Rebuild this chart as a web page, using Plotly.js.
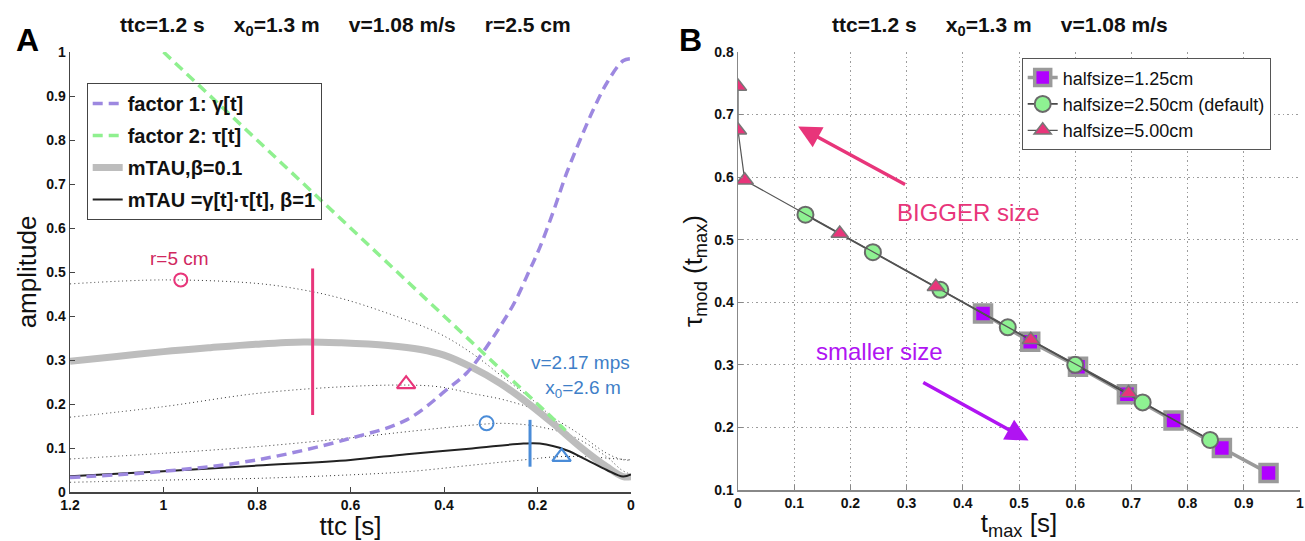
<!DOCTYPE html>
<html>
<head>
<meta charset="utf-8">
<script src="https://cdn.plot.ly/plotly-3.0.1.min.js"></script>
<style>html,body{margin:0;padding:0;background:#fff;}#chart{width:1305px;height:541px;}</style>
</head>
<body>
<div id="chart"></div>
<script>
// ---------- Panel A data ----------
const ttcGamma = [1.2, 1.0, 0.8, 0.6, 0.48, 0.39, 0.35, 0.31, 0.28, 0.25, 0.22, 0.195, 0.165, 0.138, 0.109, 0.081, 0.052, 0.017, 0];
const gammaVals = [0.033, 0.047, 0.073, 0.122, 0.164, 0.236, 0.272, 0.328, 0.376, 0.429, 0.497, 0.556, 0.641, 0.724, 0.80, 0.868, 0.929, 0.980, 0.985];

const ttcTau = [1.0, 0.14];
const tauVals = [1.0, 0.14];

const ttcMtau01 = [1.2, 1.1, 1.0, 0.9, 0.8, 0.7, 0.62, 0.52, 0.45, 0.4, 0.34, 0.28, 0.22, 0.167, 0.109, 0.052, 0.017, 0];
const mtau01Vals = [0.297, 0.308, 0.319, 0.328, 0.336, 0.341, 0.339, 0.333, 0.324, 0.311, 0.283, 0.247, 0.2015, 0.156, 0.103, 0.0575, 0.035, 0.035];

const ttcMtau1 = [1.2, 1.0, 0.8, 0.6, 0.48, 0.34, 0.23, 0.195, 0.138, 0.095, 0.052, 0.017, 0];
const mtau1Vals = [0.036, 0.047, 0.060, 0.073, 0.086, 0.099, 0.110, 0.110, 0.095, 0.073, 0.050, 0.035, 0.040];

const ttcDot1 = [1.2, 1.0, 0.8, 0.7, 0.62, 0.52, 0.41, 0.34, 0.27, 0.2, 0.15, 0.1, 0.05, 0.02, 0];
const dot1Vals = [0.473, 0.482, 0.474, 0.459, 0.440, 0.406, 0.360, 0.315, 0.258, 0.200, 0.150, 0.100, 0.055, 0.032, 0.028];
const ttcDot2 = [1.2, 1.0, 0.8, 0.62, 0.48, 0.41, 0.34, 0.27, 0.195, 0.124, 0.052, 0.02, 0];
const dot2Vals = [0.170, 0.194, 0.224, 0.239, 0.243, 0.239, 0.224, 0.209, 0.183, 0.141, 0.088, 0.074, 0.072];
const ttcDot3 = [1.2, 1.0, 0.8, 0.6, 0.48, 0.34, 0.27, 0.195, 0.124, 0.052, 0.02, 0];
const dot3Vals = [0.075, 0.088, 0.103, 0.123, 0.137, 0.152, 0.156, 0.148, 0.126, 0.080, 0.050, 0.040];
const ttcDot4 = [1.2, 1.0, 0.8, 0.6, 0.48, 0.34, 0.23, 0.16, 0.09, 0.04, 0.015, 0];
const dot4Vals = [0.022, 0.027, 0.031, 0.039, 0.046, 0.061, 0.073, 0.080, 0.080, 0.076, 0.074, 0.073];

const pinkCircle = {x: [0.963], y: [0.482]};
const pinkTriangle = {x: [0.481], y: [0.245]};
const blueCircle = {x: [0.309], y: [0.156]};
const blueTriangle = {x: [0.1485], y: [0.080]};
const pinkBarX = [0.681, 0.681], pinkBarY = [0.175, 0.508];
const blueBarX = [0.216, 0.216], blueBarY = [0.0575, 0.164];

// ---------- Panel B data ----------
const tmaxSmall = [0.436, 0.520, 0.605, 0.692, 0.775, 0.861, 0.944];
const tauSmall  = [0.382, 0.337, 0.297, 0.253, 0.211, 0.167, 0.127];
const tmaxDefault = [0.12, 0.24, 0.36, 0.48, 0.60, 0.72, 0.84];
const tauDefault  = [0.54, 0.48, 0.42, 0.36, 0.30, 0.24, 0.18];
const tmaxBig = [0.0, 0.0, 0.012, 0.181, 0.352, 0.521, 0.695];
const tauBig  = [0.745, 0.675, 0.595, 0.510, 0.425, 0.340, 0.255];

const seriesNamesB = ['halfsize=1.25cm', 'halfsize=2.50cm (default)', 'halfsize=5.00cm'];
const seriesNamesA = ['<b>factor 1: γ[t]</b>', '<b>factor 2: τ[t]</b>', '<b>mTAU,β=0.1</b>', '<b>mTAU =γ[t]·τ[t], β=1</b>'];

const FONT = 'Liberation Sans, Arial, Helvetica, sans-serif';
const PINK = '#e8357a', BLUE = '#4a8cd8', PURPLE = '#b014f2';

const dotLine = {color: '#333', width: 1, dash: '1px,3px'};
function dotted(x, y) {
  return {x, y, xaxis: 'x', yaxis: 'y', mode: 'lines', line: Object.assign({shape: 'spline'}, dotLine), showlegend: false, hoverinfo: 'skip'};
}

const traces = [
  dotted(ttcDot1, dot1Vals), dotted(ttcDot2, dot2Vals), dotted(ttcDot3, dot3Vals), dotted(ttcDot4, dot4Vals),
  {x: ttcMtau01, y: mtau01Vals, xaxis: 'x', yaxis: 'y', mode: 'lines', name: seriesNamesA[2], legend: 'legend2', legendgroup: 'g3', legendrank: 3,
   line: {color: '#bdbdbd', width: 7, shape: 'spline'}},
  {x: ttcMtau1, y: mtau1Vals, xaxis: 'x', yaxis: 'y', mode: 'lines', name: seriesNamesA[3], legend: 'legend2', legendgroup: 'g4', legendrank: 4,
   line: {color: '#222', width: 2, shape: 'spline'}},
  {x: ttcTau, y: tauVals, xaxis: 'x', yaxis: 'y', mode: 'lines', name: seriesNamesA[1], legend: 'legend2', legendgroup: 'g2', legendrank: 2,
   line: {color: '#8ff08f', width: 3.5, dash: '10px,6px'}},
  {x: ttcGamma, y: gammaVals, xaxis: 'x', yaxis: 'y', mode: 'lines', name: seriesNamesA[0], legend: 'legend2', legendgroup: 'g1', legendrank: 1,
   line: {color: '#9d88e0', width: 3.5, dash: '10px,6px', shape: 'spline'}},
  {x: pinkBarX, y: pinkBarY, xaxis: 'x', yaxis: 'y', mode: 'lines', line: {color: PINK, width: 3}, showlegend: false},
  {x: blueBarX, y: blueBarY, xaxis: 'x', yaxis: 'y', mode: 'lines', line: {color: BLUE, width: 3}, showlegend: false},
  {x: pinkCircle.x, y: pinkCircle.y, xaxis: 'x', yaxis: 'y', mode: 'markers', showlegend: false,
   marker: {symbol: 'circle-open', size: 13, color: PINK, line: {width: 2, color: PINK}}},
  {x: pinkTriangle.x, y: pinkTriangle.y, xaxis: 'x', yaxis: 'y', mode: 'markers', showlegend: false,
   marker: {symbol: 'triangle-up-open', size: 16, color: PINK, line: {width: 2.2, color: PINK}}},
  {x: blueCircle.x, y: blueCircle.y, xaxis: 'x', yaxis: 'y', mode: 'markers', showlegend: false,
   marker: {symbol: 'circle-open', size: 14, color: BLUE, line: {width: 2, color: BLUE}}},
  {x: blueTriangle.x, y: blueTriangle.y, xaxis: 'x', yaxis: 'y', mode: 'markers', showlegend: false,
   marker: {symbol: 'triangle-up-open', size: 16, color: BLUE, line: {width: 2.2, color: BLUE}}},

  // Panel B
  {x: tmaxSmall, y: tauSmall, xaxis: 'x2', yaxis: 'y2', mode: 'lines+markers', name: seriesNamesB[0],
   line: {color: '#9a9a9a', width: 3.5},
   marker: {symbol: 'square', size: 17, color: '#b000ff', line: {color: '#9a9a9a', width: 3.5}}},
  {x: tmaxDefault, y: tauDefault, xaxis: 'x2', yaxis: 'y2', mode: 'lines+markers', name: seriesNamesB[1],
   line: {color: '#4a4a4a', width: 1.6},
   marker: {symbol: 'circle', size: 16, color: '#8ef292', line: {color: '#6a6a6a', width: 2}}},
  {x: tmaxBig, y: tauBig, xaxis: 'x2', yaxis: 'y2', mode: 'lines+markers', name: seriesNamesB[2],
   line: {color: '#555', width: 1.2},
   marker: {symbol: 'triangle-up', size: 15, color: '#e8357a', line: {color: '#777', width: 1.5}}}
];

const tickFont = {family: FONT, size: 14, color: '#111', weight: 'bold'};
const titleFont = {family: FONT, size: 26, color: '#111'};

const layout = {
  width: 1305, height: 541,
  margin: {l: 0, r: 0, t: 0, b: 0},
  paper_bgcolor: '#fff', plot_bgcolor: '#fff',
  font: {family: FONT, color: '#111'},
  showlegend: true,
  xaxis: {
    domain: [70/1305, 631/1305], range: [1.2, 0], anchor: 'y',
    tickvals: [1.2, 1, 0.8, 0.6, 0.4, 0.2, 0], ticktext: ['1.2', '1', '0.8', '0.6', '0.4', '0.2', '0'],
    ticks: 'inside', ticklen: 5, tickcolor: '#444', showline: true, linecolor: '#444', linewidth: 1.5,
    showgrid: false, zeroline: false, tickfont: tickFont, automargin: false,
    title: {text: 'ttc [s]', font: titleFont, standoff: 0}
  },
  yaxis: {
    domain: [1 - 492/541, 1 - 52/541], range: [0, 1], anchor: 'x',
    dtick: 0.1, tick0: 0,
    ticks: 'inside', ticklen: 5, tickcolor: '#444', showline: true, linecolor: '#444', linewidth: 1.5,
    showgrid: false, zeroline: false, tickfont: tickFont, automargin: false,
    title: {text: 'amplitude', font: titleFont, standoff: 2}
  },
  xaxis2: {
    domain: [738/1305, 1300/1305], range: [0, 1], anchor: 'y2',
    dtick: 0.1, tick0: 0,
    ticks: 'inside', ticklen: 5, tickcolor: '#888', showline: true, linecolor: '#888', linewidth: 1.5,
    showgrid: true, gridcolor: '#9c9c9c', griddash: '1.5px,3px', gridwidth: 1, zeroline: false,
    tickfont: tickFont, automargin: false,
    title: {text: 't<sub>max</sub> [s]', font: titleFont, standoff: 0}
  },
  yaxis2: {
    domain: [1 - 490/541, 1 - 52/541], range: [0.1, 0.8], anchor: 'x2',
    dtick: 0.1, tick0: 0,
    ticks: 'inside', ticklen: 5, tickcolor: '#888', showline: true, linecolor: '#888', linewidth: 1.5,
    showgrid: true, gridcolor: '#9c9c9c', griddash: '1.5px,3px', gridwidth: 1, zeroline: false,
    tickfont: tickFont, automargin: false,
    title: {text: 'τ<sub>mod</sub> (t<sub>max</sub>)', font: titleFont, standoff: 4}
  },
  legend: {
    x: 1021.7/1305, y: 1 - 58.3/541, xanchor: 'left', yanchor: 'top',
    bgcolor: '#fff', bordercolor: '#555', borderwidth: 1,
    font: {family: FONT, size: 18, color: '#111'}, traceorder: 'normal'
  },
  legend2: {
    x: 86.7/1305, y: 1 - 83/541, xanchor: 'left', yanchor: 'top',
    bgcolor: 'rgba(255,255,255,0)', bordercolor: '#444', borderwidth: 1,
    font: {family: FONT, size: 20, color: '#111'}, traceorder: 'grouped', tracegroupgap: 3
  },
  annotations: [
    {xref: 'paper', yref: 'paper', x: 28/1305, y: 1 - 40/541, text: '<b>A</b>', showarrow: false,
     font: {family: FONT, size: 32, color: '#000'}, xanchor: 'center', yanchor: 'middle'},
    {xref: 'paper', yref: 'paper', x: 690/1305, y: 1 - 40/541, text: '<b>B</b>', showarrow: false,
     font: {family: FONT, size: 32, color: '#000'}, xanchor: 'center', yanchor: 'middle'},
    {xref: 'paper', yref: 'paper', x: 345/1305, y: 1 - 26/541,
     text: '<b>ttc=1.2 s\u00a0\u00a0\u00a0\u00a0\u00a0x<sub>0</sub>=1.3 m\u00a0\u00a0\u00a0\u00a0\u00a0v=1.08 m/s\u00a0\u00a0\u00a0\u00a0\u00a0r=2.5 cm</b>',
     showarrow: false, font: {family: FONT, size: 21, color: '#111'}, xanchor: 'center', yanchor: 'middle'},
    {xref: 'paper', yref: 'paper', x: 1000/1305, y: 1 - 26/541,
     text: '<b>ttc=1.2 s\u00a0\u00a0\u00a0\u00a0\u00a0x<sub>0</sub>=1.3 m\u00a0\u00a0\u00a0\u00a0\u00a0v=1.08 m/s</b>',
     showarrow: false, font: {family: FONT, size: 21, color: '#111'}, xanchor: 'center', yanchor: 'middle'},
    {xref: 'x', yref: 'y', x: 0.966, y: 0.53, text: 'r=5 cm', showarrow: false,
     font: {family: FONT, size: 19, color: '#d0285f'}, xanchor: 'center', yanchor: 'middle'},
    {xref: 'x', yref: 'y', x: 0.108, y: 0.263, text: 'v=2.17 mps<br> x<sub>0</sub>=2.6 m', showarrow: false,
     align: 'center', font: {family: FONT, size: 19, color: '#3f7fc8'}, xanchor: 'center', yanchor: 'middle'},
    {xref: 'x2', yref: 'y2', x: 0.411, y: 0.543, text: 'BIGGER size', showarrow: false,
     font: {family: FONT, size: 24, color: PINK}, xanchor: 'center', yanchor: 'middle'},
    {xref: 'x2', yref: 'y2', x: 0.251, y: 0.321, text: 'smaller size', showarrow: false,
     font: {family: FONT, size: 24, color: PURPLE}, xanchor: 'center', yanchor: 'middle'},
    {xref: 'x2', yref: 'y2', axref: 'x2', ayref: 'y2', x: 0.107, y: 0.681, ax: 0.30, ay: 0.587,
     text: '', showarrow: true, arrowhead: 2, arrowsize: 1.3, arrowwidth: 3.5, arrowcolor: PINK},
    {xref: 'x2', yref: 'y2', axref: 'x2', ayref: 'y2', x: 0.517, y: 0.179, ax: 0.327, ay: 0.273,
     text: '', showarrow: true, arrowhead: 2, arrowsize: 1.3, arrowwidth: 3.5, arrowcolor: PURPLE}
  ]
};

Plotly.newPlot('chart', traces, layout, {staticPlot: true, displayModeBar: false});
</script>
</body>
</html>
